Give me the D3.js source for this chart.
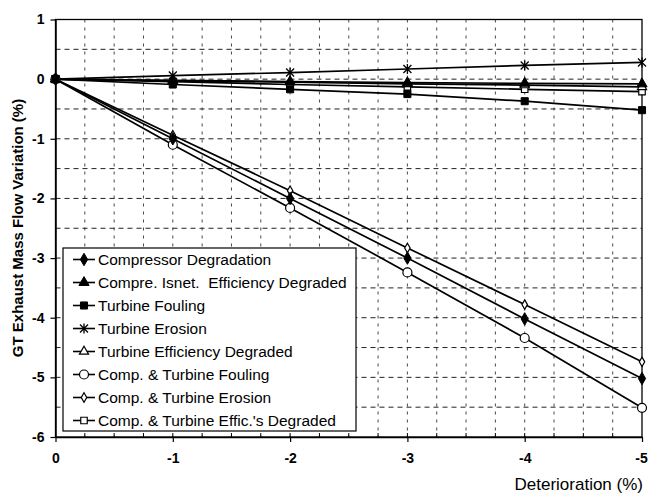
<!DOCTYPE html>
<html>
<head>
<meta charset="utf-8">
<script src="https://cdn.jsdelivr.net/npm/d3@7"></script>
<style>
  body { margin: 0; background: #fff; }
  svg { display: block; font-family: "Liberation Sans", Arial, sans-serif; }
</style>
</head>
<body>
<svg id="chart" width="648" height="493"></svg>
<script>
// deterioration steps (%)
const xValues = [0, -1, -2, -3, -4, -5];
const xTicks = [0, -1, -2, -3, -4, -5];
const yTicks = [1, 0, -1, -2, -3, -4, -5, -6];

// GT exhaust mass flow variation (%) per case
const compressorDegradation = [0, -1.00, -2.00, -3.00, -4.02, -5.02];
const compIsentEffDegraded  = [0, -0.02, -0.04, -0.06, -0.07, -0.08];
const turbineFouling        = [0, -0.09, -0.17, -0.25, -0.37, -0.52];
const turbineErosion        = [0, 0.06, 0.11, 0.17, 0.23, 0.28];
const turbineEffDegraded    = [0, -0.03, -0.05, -0.08, -0.10, -0.13];
const compTurbFouling       = [0, -1.10, -2.16, -3.24, -4.34, -5.51];
const compTurbErosion       = [0, -0.94, -1.87, -2.83, -3.78, -4.74];
const compTurbEffDegraded   = [0, -0.04, -0.09, -0.13, -0.17, -0.21];

const seriesNames = [
  "Compressor Degradation",
  "Compre. Isnet.  Efficiency Degraded",
  "Turbine Fouling",
  "Turbine Erosion",
  "Turbine Efficiency Degraded",
  "Comp. & Turbine Fouling",
  "Comp. & Turbine Erosion",
  "Comp. & Turbine Effic.'s Degraded"
];
const seriesValues = [
  compressorDegradation, compIsentEffDegraded, turbineFouling, turbineErosion,
  turbineEffDegraded, compTurbFouling, compTurbErosion, compTurbEffDegraded
];
const markerKinds = [
  "diamondFilled", "triangleFilled", "squareFilled", "asterisk",
  "triangleOpen", "circleOpen", "diamondSmallOpen", "squareOpen"
];

const svg = d3.select("#chart");
const margin = { top: 19.5, right: 6, bottom: 56, left: 55.5 };
const W = 648, H = 493;
const innerW = W - margin.left - margin.right;
const innerH = H - margin.top - margin.bottom;

const x = d3.scaleLinear().domain([0, -5]).range([margin.left, margin.left + innerW]);
const y = d3.scaleLinear().domain([-6, 1]).range([margin.top + innerH, margin.top]);

svg.append("rect").attr("width", W).attr("height", H).attr("fill", "#fff");

// --- grid ---
const gGrid = svg.append("g");
gGrid.selectAll("line.vg").data(d3.range(1, 20).map(i => -i * 0.25)).join("line")
  .attr("class", "vg")
  .attr("x1", d => x(d)).attr("x2", d => x(d))
  .attr("y1", y(1)).attr("y2", y(-6))
  .attr("stroke", "#333").attr("stroke-width", 0.9)
  .attr("stroke-dasharray", "3,5");
gGrid.selectAll("line.hg").data(d3.range(1, 14).map(i => 1 - i * 0.5)).join("line")
  .attr("class", "hg")
  .attr("x1", x(0)).attr("x2", x(-5))
  .attr("y1", d => y(d)).attr("y2", d => y(d))
  .attr("stroke", "#222").attr("stroke-width", 1)
  .attr("stroke-dasharray", "5,4");

// plot border
svg.append("rect")
  .attr("x", x(0)).attr("y", y(1))
  .attr("width", x(-5) - x(0)).attr("height", y(-6) - y(1))
  .attr("fill", "none").attr("stroke", "#000").attr("stroke-width", 1.3);

// --- axes ---
const fmt = d => String(d);   // plain hyphen minus like the original
const xAxis = d3.axisBottom(x).tickValues(xTicks).tickFormat(fmt).tickSize(5).tickSizeOuter(0);
const yAxis = d3.axisLeft(y).tickValues(yTicks).tickFormat(fmt).tickSize(5).tickSizeOuter(0);

const gX = svg.append("g").attr("transform", `translate(0,${y(-6)})`).call(xAxis);
const gY = svg.append("g").attr("transform", `translate(${x(0)},0)`).call(yAxis);
[gX, gY].forEach(g => {
  g.select(".domain").attr("stroke", "#000").attr("stroke-width", 1.5);
  g.selectAll(".tick line").attr("stroke", "#000").attr("stroke-width", 1.2);
  g.selectAll(".tick text")
    .attr("font-family", "'Liberation Sans', Arial, sans-serif")
    .attr("font-size", 14).attr("font-weight", "bold").attr("fill", "#000");
});
gX.selectAll(".tick text").attr("dy", "1.25em");
gX.selectAll(".tick text").filter(d => d === -5).attr("x", -1);
gY.selectAll(".tick text").attr("x", -11);

// minor ticks inside
svg.append("g").selectAll("line").data(d3.range(1, 20).map(i => -i * 0.25)).join("line")
  .attr("x1", d => x(d)).attr("x2", d => x(d))
  .attr("y1", y(-6)).attr("y2", y(-6) - 4)
  .attr("stroke", "#000").attr("stroke-width", 1);

// axis titles
svg.append("text")
  .attr("transform", `translate(23,228) rotate(-90)`)
  .attr("text-anchor", "middle")
  .attr("font-size", 15).attr("font-weight", "bold")
  .text("GT Exhaust Mass Flow Variation (%)");

svg.append("text")
  .attr("x", 643).attr("y", 490)
  .attr("text-anchor", "end")
  .attr("font-size", 17)
  .text("Deterioration (%)");

// --- markers ---
function drawMarker(sel, kind) {
  const black = "#000";
  if (kind === "diamondFilled") {
    sel.append("path").attr("d", d3.symbol(d3.symbolDiamond, 45)())
      .attr("fill", black).attr("stroke", black).attr("stroke-width", 1);
  } else if (kind === "triangleFilled") {
    sel.append("path").attr("d", d3.symbol(d3.symbolTriangle, 45)())
      .attr("fill", black).attr("stroke", black).attr("stroke-width", 1);
  } else if (kind === "squareFilled") {
    sel.append("path").attr("d", d3.symbol(d3.symbolSquare, 50)())
      .attr("fill", black).attr("stroke", black).attr("stroke-width", 1);
  } else if (kind === "asterisk") {
    const r = 5;
    sel.append("path")
      .attr("d", `M0,${-r}V${r}M${-r * 0.8},${-r * 0.8}L${r * 0.8},${r * 0.8}M${r * 0.8},${-r * 0.8}L${-r * 0.8},${r * 0.8}`)
      .attr("fill", "none").attr("stroke", black).attr("stroke-width", 1.3);
  } else if (kind === "triangleOpen") {
    sel.append("path").attr("d", d3.symbol(d3.symbolTriangle, 36)())
      .attr("fill", "#fff").attr("stroke", black).attr("stroke-width", 1.2);
  } else if (kind === "circleOpen") {
    sel.append("circle").attr("r", 4.5)
      .attr("fill", "#fff").attr("stroke", black).attr("stroke-width", 1.2);
  } else if (kind === "diamondSmallOpen") {
    sel.append("path").attr("d", d3.symbol(d3.symbolDiamond, 26)())
      .attr("fill", "#fff").attr("stroke", black).attr("stroke-width", 1.2);
  } else if (kind === "squareOpen") {
    sel.append("path").attr("d", d3.symbol(d3.symbolSquare, 42)())
      .attr("fill", "#fff").attr("stroke", black).attr("stroke-width", 1.2);
  }
}

// --- series lines ---
const line = d3.line().x(d => x(d.x)).y(d => y(d.y));
const series = seriesNames.map((name, i) => ({
  name,
  kind: markerKinds[i],
  values: xValues.map((xv, j) => ({ x: xv, y: seriesValues[i][j] }))
}));

const drawOrder = [7, 4, 1, 3, 6, 5, 0, 2];
const gLines = svg.append("g");
drawOrder.forEach(i => {
  const s = series[i];
  gLines.append("path")
    .attr("d", line(s.values))
    .attr("fill", "none").attr("stroke", "#000").attr("stroke-width", 1.7);
});
drawOrder.forEach(i => {
  const s = series[i];
  s.values.forEach(v => {
    const g = gLines.append("g").attr("transform", `translate(${x(v.x)},${y(v.y)})`);
    drawMarker(g, s.kind);
  });
});

// --- legend ---
const legend = svg.append("g").attr("transform", "translate(63,248)");
legend.append("rect")
  .attr("width", 293).attr("height", 183)
  .attr("fill", "#fff").attr("stroke", "#000").attr("stroke-width", 1.2);
series.forEach((s, i) => {
  const cy = 11.5 + i * 23;
  const row = legend.append("g").attr("transform", `translate(0,${cy})`);
  row.append("line").attr("x1", 10).attr("x2", 32).attr("y1", 0).attr("y2", 0)
    .attr("stroke", "#000").attr("stroke-width", 1.6);
  const m = row.append("g").attr("transform", "translate(21,0)");
  drawMarker(m, s.kind);
  row.append("text")
    .attr("x", 35).attr("y", 5.5)
    .attr("font-size", 15.5)
    .style("white-space", "pre")
    .text(s.name);
});
</script>
</body>
</html>
